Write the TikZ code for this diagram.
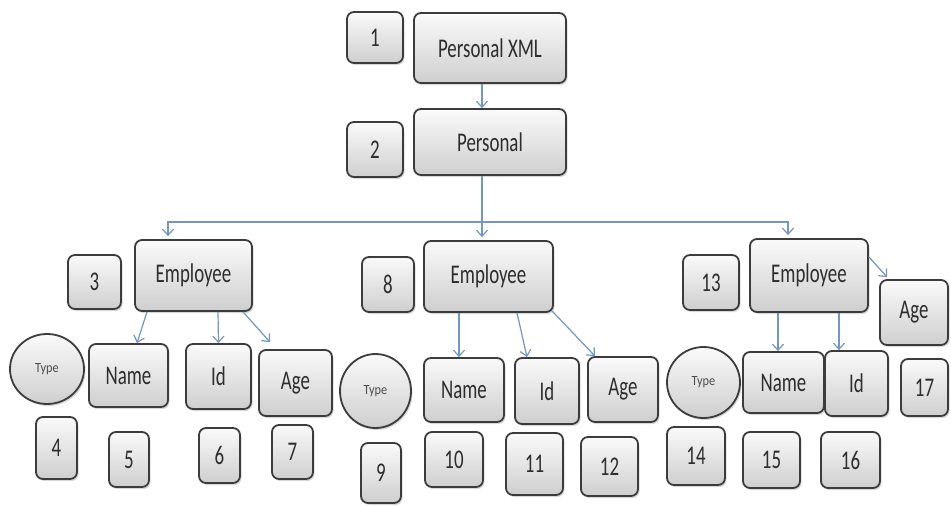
\documentclass[tikz,border=0pt]{standalone}
\usepackage{fontspec}
\setmainfont{Carlito}
\usepackage{graphicx}
\usetikzlibrary{arrows.meta,shadows,shapes.geometric}
\definecolor{arrowblue}{RGB}{115,150,195}
\definecolor{boxedge}{RGB}{60,60,60}
\definecolor{txtgray}{RGB}{45,45,45}
\newcommand{\nt}[1]{\scalebox{0.7}[1]{#1}}
\newcommand{\smt}[1]{\scalebox{0.88}[1]{#1}}
\tikzset{
  box/.style={draw=boxedge, line width=1.8pt, rounded corners=7pt,
    top color=gray!4, bottom color=gray!38,
    drop shadow={shadow xshift=1.5pt, shadow yshift=-2pt, opacity=0.3},
    inner sep=0pt, font=\fontsize{27}{30}\selectfont, text=txtgray},
  oval/.style={ellipse, draw=boxedge, line width=1.8pt,
    top color=gray!4, bottom color=gray!38,
    drop shadow={shadow xshift=1.5pt, shadow yshift=-2pt, opacity=0.3},
    inner sep=0pt, font=\fontsize{14}{16}\selectfont, text=txtgray!85},
  link/.style={draw=arrowblue, line width=1.2pt},
  arr/.style={link, -{Straight Barb[length=6pt,width=11pt]}},
}
\begin{document}
\begin{tikzpicture}[x=1pt,y=1pt]
\useasboundingbox[fill=white] (0,0) rectangle (951,-506);
% top
\node[box, minimum width=56pt, minimum height=51pt] (b1) at (375,-37.5) {\nt{1}};
\node[box, minimum width=152pt, minimum height=70pt] (px) at (490,-48) {\nt{Personal XML}};
\node[box, minimum width=56pt, minimum height=55pt] (b2) at (375,-149.5) {\nt{2}};
\node[box, minimum width=152pt, minimum height=66pt] (p) at (490,-142) {\nt{Personal}};
% group 1
\node[box, minimum width=117pt, minimum height=71pt] (e1) at (193.5,-275.5) {\nt{Employee}};
\node[box, minimum width=53pt, minimum height=54pt] (b3) at (94.5,-282) {\nt{3}};
\node[oval, minimum width=74pt, minimum height=70pt] (t1) at (47,-369) {\smt{Type}};
\node[box, minimum width=79pt, minimum height=63pt] (n1) at (128.5,-375.5) {\nt{Name}};
\node[box, minimum width=65pt, minimum height=65pt] (i1) at (218.5,-376.5) {\nt{Id}};
\node[box, minimum width=73pt, minimum height=66pt] (a1) at (295.5,-383) {\nt{Age}};
\node[box, minimum width=41pt, minimum height=62pt] (b4) at (56.5,-448) {\nt{4}};
\node[box, minimum width=40pt, minimum height=55pt] (b5) at (129,-459.5) {\nt{5}};
\node[box, minimum width=41pt, minimum height=55pt] (b6) at (219.5,-455.5) {\nt{6}};
\node[box, minimum width=41pt, minimum height=54pt] (b7) at (292.5,-452) {\nt{7}};
% group 2
\node[box, minimum width=129pt, minimum height=71pt] (e2) at (488.5,-276.5) {\nt{Employee}};
\node[box, minimum width=52pt, minimum height=55pt] (b8) at (388,-284.5) {\nt{8}};
\node[oval, minimum width=71pt, minimum height=74pt] (t2) at (375.5,-391) {\smt{Type}};
\node[box, minimum width=80pt, minimum height=64pt] (n2) at (464,-390) {\nt{Name}};
\node[box, minimum width=64pt, minimum height=66pt] (i2) at (547,-391) {\nt{Id}};
\node[box, minimum width=70pt, minimum height=65pt] (a2) at (623,-389.5) {\nt{Age}};
\node[box, minimum width=40pt, minimum height=60pt] (b9) at (381,-473) {\nt{9}};
\node[box, minimum width=58pt, minimum height=55pt] (b10) at (454,-459.5) {\nt{10}};
\node[box, minimum width=57pt, minimum height=62pt] (b11) at (534.5,-464) {\nt{11}};
\node[box, minimum width=57pt, minimum height=59pt] (b12) at (609.5,-466.5) {\nt{12}};
% group 3
\node[box, minimum width=118pt, minimum height=73pt] (e3) at (809,-275.5) {\nt{Employee}};
\node[box, minimum width=56pt, minimum height=55pt] (b13) at (711,-282.5) {\nt{13}};
\node[box, minimum width=68pt, minimum height=65pt] (a3) at (914,-312.5) {\nt{Age}};
\node[oval, minimum width=73pt, minimum height=71pt] (t3) at (703.5,-382.5) {\smt{Type}};
\node[box, minimum width=81pt, minimum height=61pt] (n3) at (783.5,-382.5) {\nt{Name}};
\node[box, minimum width=63pt, minimum height=65pt] (i3) at (856.5,-383.5) {\nt{Id}};
\node[box, minimum width=47pt, minimum height=57pt] (b17) at (924.5,-387.5) {\nt{17}};
\node[box, minimum width=58pt, minimum height=58pt] (b14) at (696,-456) {\nt{14}};
\node[box, minimum width=57pt, minimum height=56pt] (b15) at (771.5,-460) {\nt{15}};
\node[box, minimum width=59pt, minimum height=56pt] (b16) at (850.5,-460) {\nt{16}};
% connectors
\coordinate (bus) at (482,-222);
\draw[arr] ([xshift=-8pt]px.south) -- ([xshift=-8pt]p.north);
\draw[link] ([xshift=-8pt]p.south) -- (bus);
\draw[arr, shorten >=3pt] (bus) -| ([xshift=-25.5pt]e1.north);
\draw[arr, shorten >=3pt] (bus) -- ([xshift=-6.5pt]e2.north);
\draw[arr, shorten >=3pt] (bus) -| ([xshift=-21pt]e3.north);
\draw[arr] ([xshift=-46.5pt]e1.south) -- ([xshift=8.5pt]n1.north);
\draw[arr] ([xshift=24.5pt]e1.south) -- (i1.north);
\draw[arr] ([xshift=49.5pt]e1.south) -- ([xshift=-25.5pt,yshift=7pt]a1.north);
\draw[arr] ([xshift=-29.5pt]e2.south) -- ([xshift=-5pt]n2.north);
\draw[arr] ([xshift=28.5pt]e2.south) -- ([xshift=-20pt]i2.north);
\draw[arr] ([xshift=63.5pt,yshift=2pt]e2.south) -- ([xshift=-28pt]a2.north);
\draw[arr] ([xshift=-31pt]e3.south) -- ([xshift=-5.5pt]n3.north);
\draw[arr] ([xshift=30pt]e3.south) -- ([xshift=-17.5pt]i3.north);
\draw[arr] ([yshift=18.5pt]e3.east) -- ([xshift=8pt,yshift=2pt]a3.north west);
\end{tikzpicture}
\end{document}
